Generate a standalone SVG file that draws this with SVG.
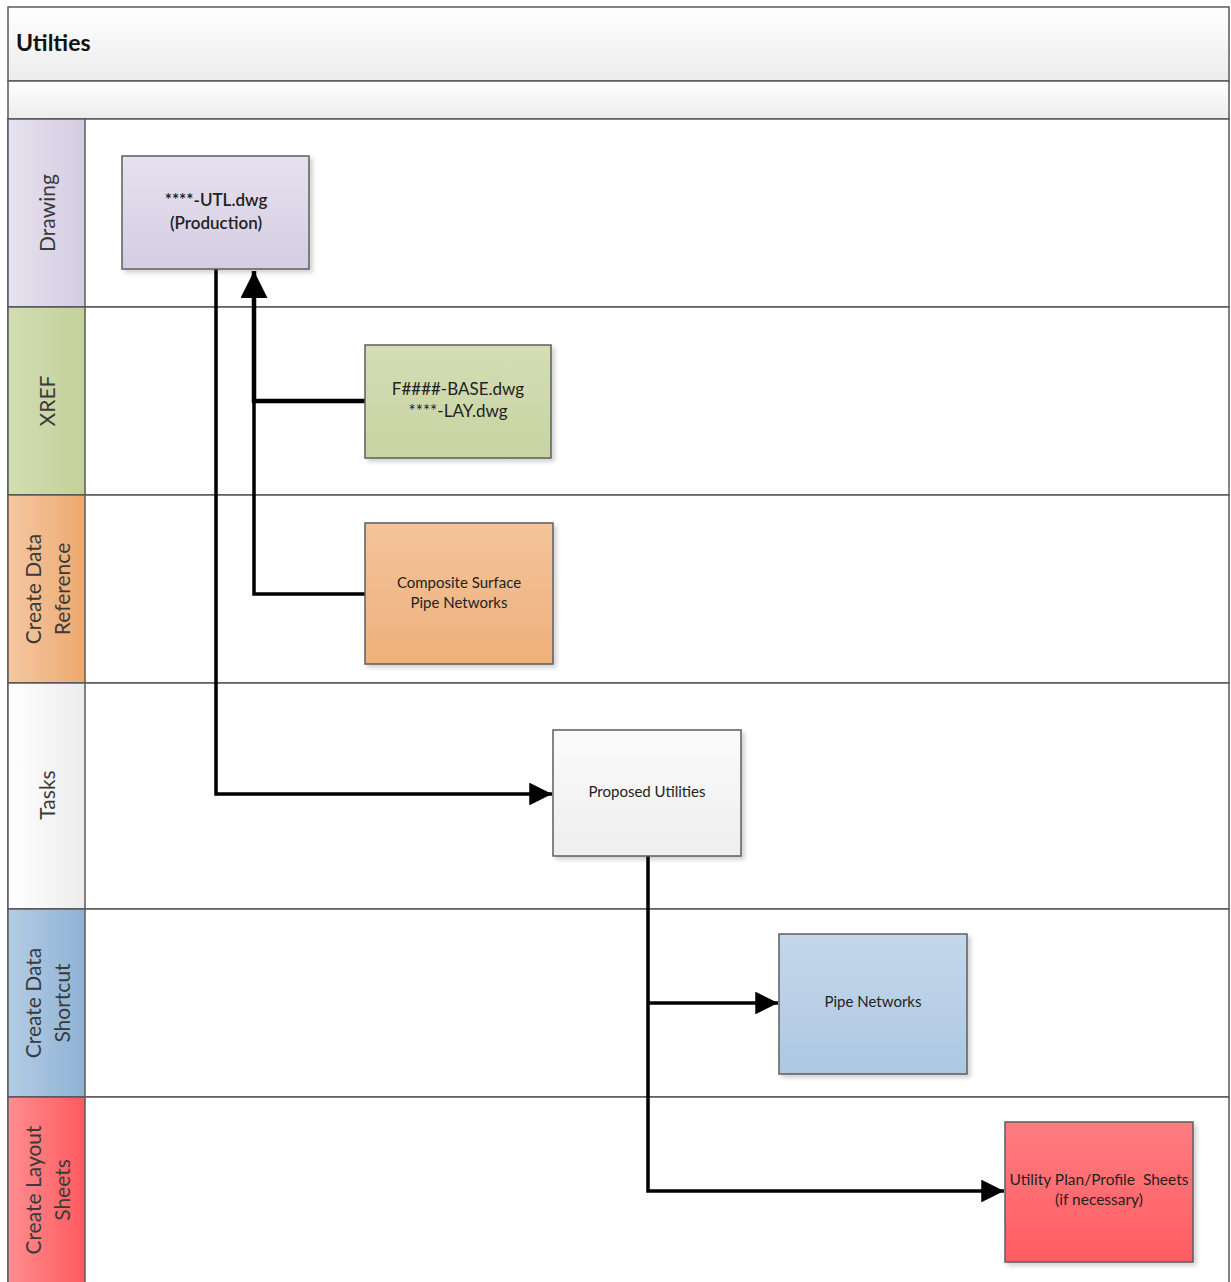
<svg xmlns="http://www.w3.org/2000/svg" width="1231" height="1282" viewBox="0 0 1231 1282">
<style>
.lane{stroke:#5a5a5a;stroke-width:1.5}
.node{stroke:#5e5e5e;stroke-width:1.5}
.lbl{font-family:Lato,"Open Sans","Liberation Sans",sans-serif;font-size:21px;fill:#3a3a3a;text-anchor:middle;dominant-baseline:central}
.nt{font-family:Lato,"Open Sans","Liberation Sans",sans-serif;fill:#222;text-anchor:middle}
.wire{fill:none;stroke:#000;stroke-width:3.5;stroke-linejoin:miter}
.wire2{fill:none;stroke:#000;stroke-width:4.5}
</style>
<defs>
<linearGradient id="gTitle" x1="0" y1="0" x2="0" y2="1"><stop offset="0" stop-color="#ffffff"/><stop offset="1" stop-color="#ececec"/></linearGradient>
<linearGradient id="hDraw" x1="0" y1="0" x2="1" y2="0"><stop offset="0" stop-color="#e6e2ee"/><stop offset="1" stop-color="#d4cde2"/></linearGradient>
<linearGradient id="hXref" x1="0" y1="0" x2="1" y2="0"><stop offset="0" stop-color="#d3ddb3"/><stop offset="1" stop-color="#c3d19a"/></linearGradient>
<linearGradient id="hCdr" x1="0" y1="0" x2="1" y2="0"><stop offset="0" stop-color="#f5c8a2"/><stop offset="1" stop-color="#eda96f"/></linearGradient>
<linearGradient id="hTask" x1="0" y1="0" x2="1" y2="0"><stop offset="0" stop-color="#ffffff"/><stop offset="1" stop-color="#ececec"/></linearGradient>
<linearGradient id="hCds" x1="0" y1="0" x2="1" y2="0"><stop offset="0" stop-color="#b4cce5"/><stop offset="1" stop-color="#8fb2d5"/></linearGradient>
<linearGradient id="hCls" x1="0" y1="0" x2="1" y2="0"><stop offset="0" stop-color="#ff8d90"/><stop offset="1" stop-color="#ff5a5e"/></linearGradient>
<linearGradient id="nDraw" x1="0" y1="0" x2="0" y2="1"><stop offset="0" stop-color="#e6e1ef"/><stop offset="1" stop-color="#d5cde3"/></linearGradient>
<linearGradient id="nXref" x1="0" y1="0" x2="0" y2="1"><stop offset="0" stop-color="#d4ddb5"/><stop offset="1" stop-color="#c8d4a2"/></linearGradient>
<linearGradient id="nCdr" x1="0" y1="0" x2="0" y2="1"><stop offset="0" stop-color="#f3c49a"/><stop offset="1" stop-color="#efb07b"/></linearGradient>
<linearGradient id="nTask" x1="0" y1="0" x2="0" y2="1"><stop offset="0" stop-color="#fbfbfb"/><stop offset="1" stop-color="#eeeeee"/></linearGradient>
<linearGradient id="nCds" x1="0" y1="0" x2="0" y2="1"><stop offset="0" stop-color="#c4d7ea"/><stop offset="1" stop-color="#adc8e2"/></linearGradient>
<linearGradient id="nCls" x1="0" y1="0" x2="0" y2="1"><stop offset="0" stop-color="#ff7c80"/><stop offset="1" stop-color="#ff5d62"/></linearGradient>
<filter id="sh" x="-10%" y="-10%" width="125%" height="125%"><feDropShadow dx="3" dy="3" stdDeviation="2" flood-color="#000" flood-opacity="0.18"/></filter>
<marker id="arr" viewBox="0 0 10 10" refX="10" refY="5" markerWidth="6.5" markerHeight="6.5" markerUnits="strokeWidth" orient="auto"><path d="M0,0 L10,5 L0,10 z" fill="#000"/></marker>
<marker id="arr2" viewBox="0 0 10 10" refX="10" refY="5" markerWidth="6" markerHeight="6" markerUnits="strokeWidth" orient="auto"><path d="M0,0 L10,5 L0,10 z" fill="#000"/></marker>
</defs>

<g id="pool">
<rect x="8" y="7" width="1221" height="74" fill="url(#gTitle)" class="lane"/>
<text x="16" y="51" font-family="Lato,'Open Sans','Liberation Sans',sans-serif" font-size="23" font-weight="bold" fill="#111">Utilties</text>
<rect x="8" y="81" width="1221" height="38" fill="url(#gTitle)" class="lane"/>
</g>

<g id="lane-drawing">
<rect x="8" y="119" width="1221" height="188" fill="#fff" class="lane"/>
<rect x="8" y="119" width="77" height="188" fill="url(#hDraw)" class="lane"/>
<text class="lbl" transform="translate(46,213) rotate(-90)">Drawing</text>
</g>
<g id="lane-xref">
<rect x="8" y="307" width="1221" height="188" fill="#fff" class="lane"/>
<rect x="8" y="307" width="77" height="188" fill="url(#hXref)" class="lane"/>
<text class="lbl" transform="translate(46,401) rotate(-90)">XREF</text>
</g>
<g id="lane-cdr">
<rect x="8" y="495" width="1221" height="188" fill="#fff" class="lane"/>
<rect x="8" y="495" width="77" height="188" fill="url(#hCdr)" class="lane"/>
<text class="lbl" transform="translate(32,589) rotate(-90)">Create Data</text>
<text class="lbl" transform="translate(61,589) rotate(-90)">Reference</text>
</g>
<g id="lane-tasks">
<rect x="8" y="683" width="1221" height="226" fill="#fff" class="lane"/>
<rect x="8" y="683" width="77" height="226" fill="url(#hTask)" class="lane"/>
<text class="lbl" transform="translate(46,795) rotate(-90)">Tasks</text>
</g>
<g id="lane-cds">
<rect x="8" y="909" width="1221" height="188" fill="#fff" class="lane"/>
<rect x="8" y="909" width="77" height="188" fill="url(#hCds)" class="lane"/>
<text class="lbl" transform="translate(32,1003) rotate(-90)">Create Data</text>
<text class="lbl" transform="translate(61,1003) rotate(-90)">Shortcut</text>
</g>
<g id="lane-cls">
<rect x="8" y="1097" width="1221" height="200" fill="#fff" class="lane"/>
<rect x="8" y="1097" width="77" height="200" fill="url(#hCls)" class="lane"/>
<text class="lbl" transform="translate(32,1190) rotate(-90)">Create Layout</text>
<text class="lbl" transform="translate(61,1190) rotate(-90)">Sheets</text>
</g>

<g id="connectors">
<path class="wire" d="M216,269 V794 H552" marker-end="url(#arr)"/>
<path class="wire2" d="M365,401 H254 V271" marker-end="url(#arr2)"/>
<path class="wire" d="M365,594 H254 V401"/>
<path class="wire" d="M648,856 V1191 H1004" marker-end="url(#arr)"/>
<path class="wire" d="M648,1003 H778" marker-end="url(#arr)"/>
</g>

<g id="node-utl">
<rect class="node" x="122" y="156" width="187" height="113" fill="url(#nDraw)" filter="url(#sh)"/>
<text class="nt" font-size="17" font-weight="600"><tspan x="216" y="206">****-UTL.dwg</tspan><tspan x="216" y="229">(Production)</tspan></text>
</g>
<g id="node-base">
<rect class="node" x="365" y="345" width="186" height="113" fill="url(#nXref)" filter="url(#sh)"/>
<text class="nt" font-size="17"><tspan x="458" y="395">F####-BASE.dwg</tspan><tspan x="458" y="417">****-LAY.dwg</tspan></text>
</g>
<g id="node-cdr">
<rect class="node" x="365" y="523" width="188" height="141" fill="url(#nCdr)" filter="url(#sh)"/>
<text class="nt" font-size="15"><tspan x="459" y="588">Composite Surface</tspan><tspan x="459" y="608">Pipe Networks</tspan></text>
</g>
<g id="node-proposed">
<rect class="node" x="553" y="730" width="188" height="126" fill="url(#nTask)" filter="url(#sh)"/>
<text class="nt" font-size="15" x="647" y="797">Proposed Utilities</text>
</g>
<g id="node-pipe">
<rect class="node" x="779" y="934" width="188" height="140" fill="url(#nCds)" filter="url(#sh)"/>
<text class="nt" font-size="15" x="873" y="1007">Pipe Networks</text>
</g>
<g id="node-sheets">
<rect class="node" x="1005" y="1122" width="188" height="140" fill="url(#nCls)" filter="url(#sh)"/>
<text class="nt" font-size="15.5" xml:space="preserve"><tspan x="1099" y="1185">Utility Plan/Profile  Sheets</tspan><tspan x="1099" y="1205">(if necessary)</tspan></text>
</g>
</svg>
